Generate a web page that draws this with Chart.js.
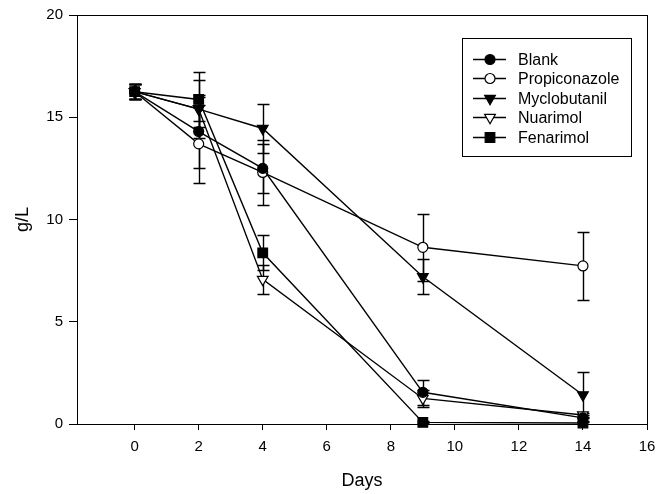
<!DOCTYPE html>
<html>
<head>
<meta charset="utf-8">
<script src="https://cdn.jsdelivr.net/npm/chart.js@4/dist/chart.umd.min.js"></script>
<style>
    html, body { margin: 0; padding: 0; background: #fff; }
    #wrap { width: 667px; height: 494px; }
</style>
</head>
<body>
<div id="wrap"><canvas id="data-chart" width="667" height="494"></canvas></div>
<script>
// Data (g/L vs days)
const days = [0, 2, 4, 9, 14];
const xTicks = [0, 2, 4, 6, 8, 10, 12, 14, 16];
const yTicks = [0, 5, 10, 15, 20];

const blank = [16.25, 14.3, 12.5, 1.55, 0.3];
const blankErr = [0.36, 1.8, 1.2, 0.6, 0.15];
const propiconazole = [16.25, 13.7, 12.3, 8.64, 7.73];
const propiconazoleErr = [0.36, 1.9, 1.6, 1.65, 1.65];
const myclobutanil = [16.25, 15.4, 14.45, 7.2, 1.42];
const myclobutanilErr = [0.36, 1.4, 1.2, 0.86, 1.12];
const nuarimol = [16.25, 15.4, 7.07, 1.25, 0.44];
const nuarimolErr = [0.36, 0.6, 0.7, 0.4, 0.1];
const fenarimol = [16.25, 15.87, 8.37, 0.08, 0.05];
const fenarimolErr = [0.36, 1.33, 0.85, 0.05, 0.05];

const FONT = "'Liberation Sans', Arial, Helvetica, sans-serif";

function series(label, values, errors, style, filled) {
    return {
        label: label,
        data: days.map((d, i) => ({ x: d, y: values[i] })),
        errors: errors,
        borderColor: "#000",
        borderWidth: 1.4,
        pointStyle: style.shape,
        pointRotation: style.rotation || 0,
        pointRadius: style.radius,
        pointHoverRadius: style.radius,
        pointBackgroundColor: filled ? "#000" : "#fff",
        pointBorderColor: "#000",
        pointBorderWidth: 1.2,
        showLine: true,
        fill: false,
        tension: 0,
        clip: false
    };
}

const datasets = [
    series("Blank", blank, blankErr, { shape: "circle", radius: 5 }, true),
    series("Propiconazole", propiconazole, propiconazoleErr, { shape: "circle", radius: 5 }, false),
    series("Myclobutanil", myclobutanil, myclobutanilErr, { shape: "triangle", rotation: 180, radius: 6.2 }, true),
    series("Nuarimol", nuarimol, nuarimolErr, { shape: "triangle", rotation: 180, radius: 6.2 }, false),
    series("Fenarimol", fenarimol, fenarimolErr, { shape: "rect", radius: 6.8 }, true)
];

// Error bars, drawn under the markers
const errorBars = {
    id: "errorBars",
    beforeDatasetsDraw(chart) {
        const ctx = chart.ctx;
        const xs = chart.scales.x, ys = chart.scales.y;
        ctx.save();
        ctx.strokeStyle = "#000";
        ctx.lineWidth = 1.4;
        chart.data.datasets.forEach(ds => {
            ds.data.forEach((p, i) => {
                const e = ds.errors[i];
                const px = Math.round(xs.getPixelForValue(p.x)) + 0.5;
                const top = Math.round(ys.getPixelForValue(p.y + e)) + 0.5;
                const bot = Math.round(ys.getPixelForValue(Math.max(p.y - e, 0))) + 0.5;
                ctx.beginPath();
                ctx.moveTo(px, top); ctx.lineTo(px, bot);
                ctx.moveTo(px - 6, top); ctx.lineTo(px + 6, top);
                if (p.y - e > 0) { ctx.moveTo(px - 6, bot); ctx.lineTo(px + 6, bot); }
                ctx.stroke();
            });
        });
        ctx.restore();
    }
};

function drawMarker(ctx, ds, x, y) {
    const r = ds.pointRadius;
    ctx.fillStyle = ds.pointBackgroundColor;
    ctx.strokeStyle = "#000";
    ctx.lineWidth = 1.2;
    ctx.beginPath();
    if (ds.pointStyle === "circle") {
        ctx.arc(x, y, r, 0, Math.PI * 2);
    } else if (ds.pointStyle === "rect") {
        const s = r * Math.SQRT1_2;
        ctx.rect(x - s, y - s, 2 * s, 2 * s);
    } else {
        // downward triangle
        ctx.moveTo(x, y + r);
        ctx.lineTo(x - r * 0.866, y - r * 0.5);
        ctx.lineTo(x + r * 0.866, y - r * 0.5);
        ctx.closePath();
    }
    ctx.fill();
    ctx.stroke();
}

// Frame around the plot plus the boxed legend
const frameAndLegend = {
    id: "frameAndLegend",
    afterDraw(chart) {
        const ctx = chart.ctx;
        const a = chart.chartArea;
        ctx.save();
        ctx.strokeStyle = "#000";
        ctx.lineWidth = 1;
        ctx.strokeRect(Math.round(a.left) + 0.5, Math.round(a.top) + 0.5,
            Math.round(a.right - a.left), Math.round(a.bottom - a.top));

        ctx.strokeRect(462.5, 38.5, 169, 118);
        ctx.font = "16px " + FONT;
        ctx.textBaseline = "middle";
        ctx.textAlign = "left";
        chart.data.datasets.forEach((ds, i) => {
            const y = Math.round(59 + i * 19.4) + 0.5;
            ctx.beginPath();
            ctx.moveTo(473, y); ctx.lineTo(506, y);
            ctx.strokeStyle = "#000";
            ctx.lineWidth = 1.4;
            ctx.stroke();
            drawMarker(ctx, ds, 490, y);
            ctx.fillStyle = "#000";
            ctx.fillText(ds.label, 518, y + 1);
        });
        ctx.restore();
    }
};

const chart = new Chart(document.getElementById("data-chart").getContext("2d"), {
    type: "scatter",
    data: { datasets: datasets },
    options: {
        responsive: false,
        animation: false,
        events: [],
        layout: { padding: { left: 0, top: 15, right: 20, bottom: 0 } },
        plugins: {
            legend: { display: false },
            tooltip: { enabled: false }
        },
        scales: {
            x: {
                type: "linear",
                min: -1.8,
                max: 16,
                afterBuildTicks: s => { s.ticks = xTicks.map(v => ({ value: v })); },
                afterFit: s => { s.height = 70; },
                grid: { drawOnChartArea: false, drawTicks: true, tickLength: 6, color: "#000" },
                border: { display: true, color: "#000", width: 1 },
                ticks: { color: "#000", padding: 8, font: { family: FONT, size: 15 } },
                title: { display: true, text: "Days", color: "#000", padding: { top: 0, bottom: 2 }, font: { family: FONT, size: 18 } }
            },
            y: {
                type: "linear",
                min: 0,
                max: 20,
                afterBuildTicks: s => { s.ticks = yTicks.map(v => ({ value: v })); },
                afterFit: s => { s.width = 77; },
                grid: { drawOnChartArea: false, drawTicks: true, tickLength: 8, color: "#000" },
                border: { display: true, color: "#000", width: 1 },
                ticks: { color: "#000", padding: 6, font: { family: FONT, size: 15 } },
                title: { display: true, text: "g/L", color: "#000", padding: { top: 12, bottom: 0 }, font: { family: FONT, size: 18 } }
            }
        }
    },
    plugins: [errorBars, frameAndLegend]
});
</script>
</body>
</html>
